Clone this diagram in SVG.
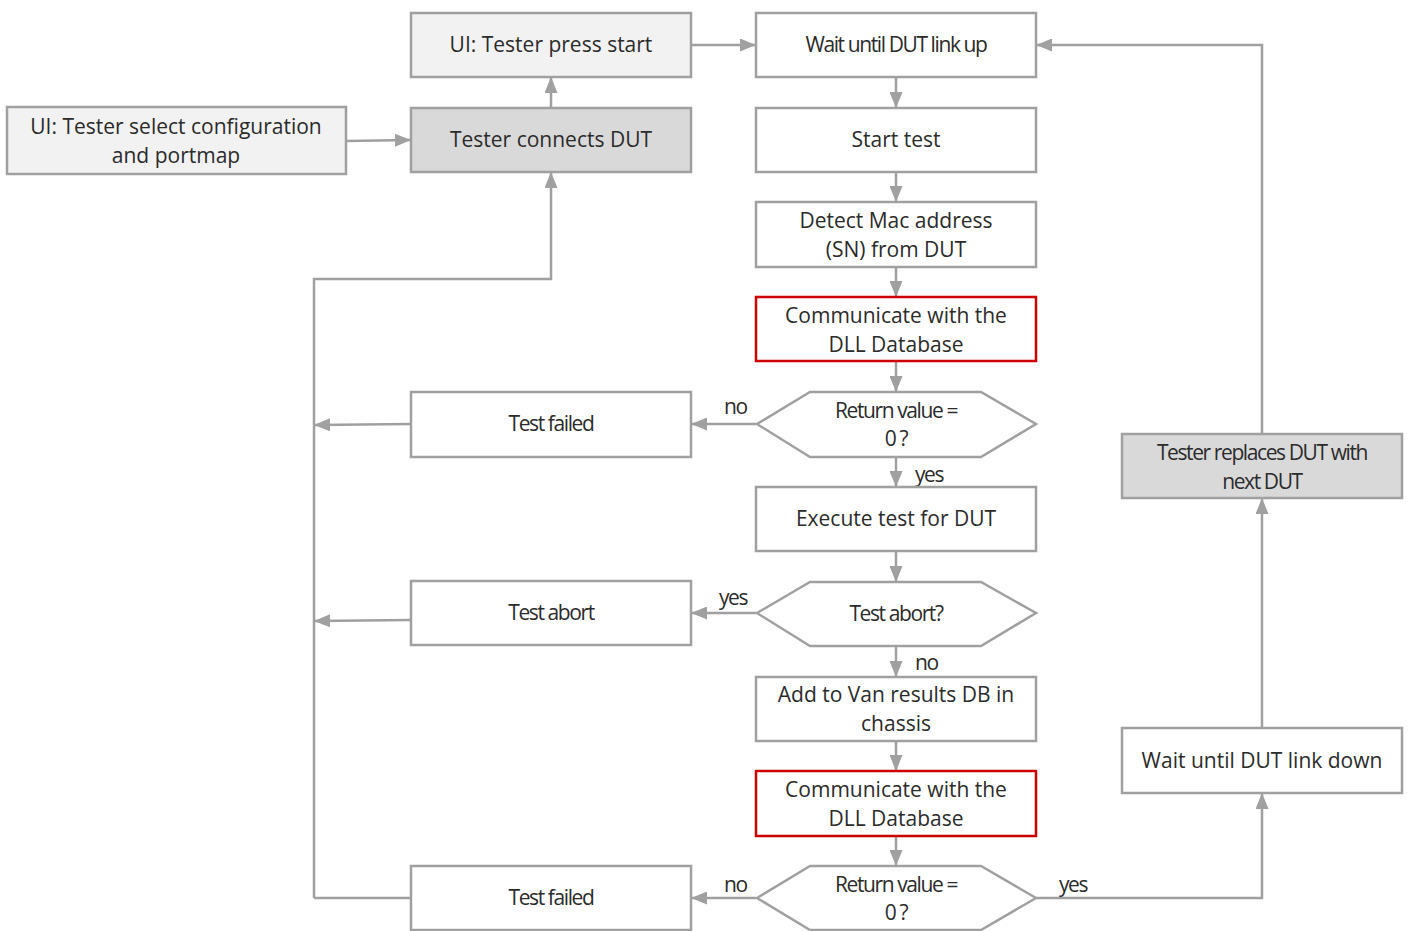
<svg xmlns="http://www.w3.org/2000/svg" width="1408" height="931" viewBox="0 0 1408 931">
<defs>
<marker id="ah" viewBox="0 0 16 13" refX="16" refY="6.5" markerWidth="16" markerHeight="13" markerUnits="userSpaceOnUse" orient="auto">
<path d="M0,0 L16,6.5 L0,13 Z" fill="#a0a0a0"/>
</marker>
</defs>
<style>
.b{fill:#ffffff;stroke:#a0a0a0;stroke-width:2.5}
.l{fill:#f2f2f2;stroke:#a0a0a0;stroke-width:2.5}
.d{fill:#d9d9d9;stroke:#a0a0a0;stroke-width:2.5}
.r{fill:#ffffff;stroke:#cc0000;stroke-width:2.5}
.c{fill:none;stroke:#a0a0a0;stroke-width:2.5}
.a{marker-end:url(#ah)}
text{font-family:"Open Sans","Noto Sans","Liberation Sans",sans-serif;font-size:21px;fill:#2b2b2b;text-anchor:middle}
.n{letter-spacing:-1.4px}
.lab{text-anchor:start}
</style>
<rect width="1408" height="931" fill="#ffffff"/>
<g id="connectors">
<path class="c a" d="M691,45 H756"/>
<path class="c a" d="M551,108 V77"/>
<path class="c a" d="M346,141 L411,140"/>
<path class="c a" d="M314,898 V279 H551 V172"/>
<path class="c a" d="M411,424 L314,425"/>
<path class="c a" d="M411,620 L314,621"/>
<path class="c" d="M411,898 H314"/>
<path class="c a" d="M896,77 V108"/>
<path class="c a" d="M896,172 V202"/>
<path class="c a" d="M896,267 V297"/>
<path class="c a" d="M896,361 V392"/>
<path class="c a" d="M756,424 H691"/>
<path class="c a" d="M896,457 V487"/>
<path class="c a" d="M896,551 V582"/>
<path class="c a" d="M756,613 H691"/>
<path class="c a" d="M896,646 V677"/>
<path class="c a" d="M896,741 V771"/>
<path class="c a" d="M896,836 V866"/>
<path class="c a" d="M756,898 H691"/>
<path class="c a" d="M1036,898 H1262 V793"/>
<path class="c a" d="M1262,728 V498"/>
<path class="c a" d="M1262,434 V45 H1036"/>
<text class="lab n" x="724" y="414">no</text>
<text class="lab n" x="915" y="482">yes</text>
<text class="lab n" x="719" y="605">yes</text>
<text class="lab n" x="915" y="670">no</text>
<text class="lab n" x="724" y="892">no</text>
<text class="lab n" x="1059" y="892">yes</text>
</g>
<g id="n_press_start"><rect class="l" x="411" y="13" width="280" height="64"/><text x="551" y="52">UI: Tester press start</text></g>
<g id="n_select_config"><rect class="l" x="7" y="107" width="339" height="67"/><text x="176" y="134">UI: Tester select configuration</text><text x="176" y="163">and portmap</text></g>
<g id="n_connects"><rect class="d" x="411" y="108" width="280" height="64"/><text x="551" y="147">Tester connects DUT</text></g>
<g id="n_link_up"><rect class="b" x="756" y="13" width="280" height="64"/><text class="n" x="896" y="52">Wait until DUT link up</text></g>
<g id="n_start"><rect class="b" x="756" y="108" width="280" height="64"/><text x="896" y="147">Start test</text></g>
<g id="n_detect"><rect class="b" x="756" y="202" width="280" height="65"/><text x="896" y="228">Detect Mac address</text><text x="896" y="257">(SN) from DUT</text></g>
<g id="n_comm1"><rect class="r" x="756" y="297" width="280" height="64"/><text x="896" y="323">Communicate with the</text><text x="896" y="352">DLL Database</text></g>
<g id="n_ret1"><polygon class="b" points="757,424 810,392 981,392 1036,424 981,457 810,457"/><text class="n" x="896" y="418">Return value =</text><text class="n" x="896" y="446">0 ?</text></g>
<g id="n_failed1"><rect class="b" x="411" y="392" width="280" height="65"/><text class="n" x="551" y="431">Test failed</text></g>
<g id="n_execute"><rect class="b" x="756" y="487" width="280" height="64"/><text x="896" y="526">Execute test for DUT</text></g>
<g id="n_abortq"><polygon class="b" points="757,613 810,582 981,582 1036,613 981,646 810,646"/><text class="n" x="896" y="621">Test abort?</text></g>
<g id="n_abort"><rect class="b" x="411" y="581" width="280" height="64"/><text class="n" x="551" y="620">Test abort</text></g>
<g id="n_addvan"><rect class="b" x="756" y="677" width="280" height="64"/><text x="896" y="702">Add to Van results DB in</text><text x="896" y="731">chassis</text></g>
<g id="n_comm2"><rect class="r" x="756" y="771" width="280" height="65"/><text x="896" y="797">Communicate with the</text><text x="896" y="826">DLL Database</text></g>
<g id="n_ret2"><polygon class="b" points="757,898 810,866 981,866 1036,898 981,930 810,930"/><text class="n" x="896" y="892">Return value =</text><text class="n" x="896" y="920">0 ?</text></g>
<g id="n_failed2"><rect class="b" x="411" y="866" width="280" height="64"/><text class="n" x="551" y="905">Test failed</text></g>
<g id="n_replace"><rect class="d" x="1122" y="434" width="280" height="64"/><text class="n" x="1262" y="460">Tester replaces DUT with</text><text class="n" x="1262" y="489">next DUT</text></g>
<g id="n_link_down"><rect class="b" x="1122" y="728" width="280" height="65"/><text x="1262" y="768">Wait until DUT link down</text></g>
</svg>
